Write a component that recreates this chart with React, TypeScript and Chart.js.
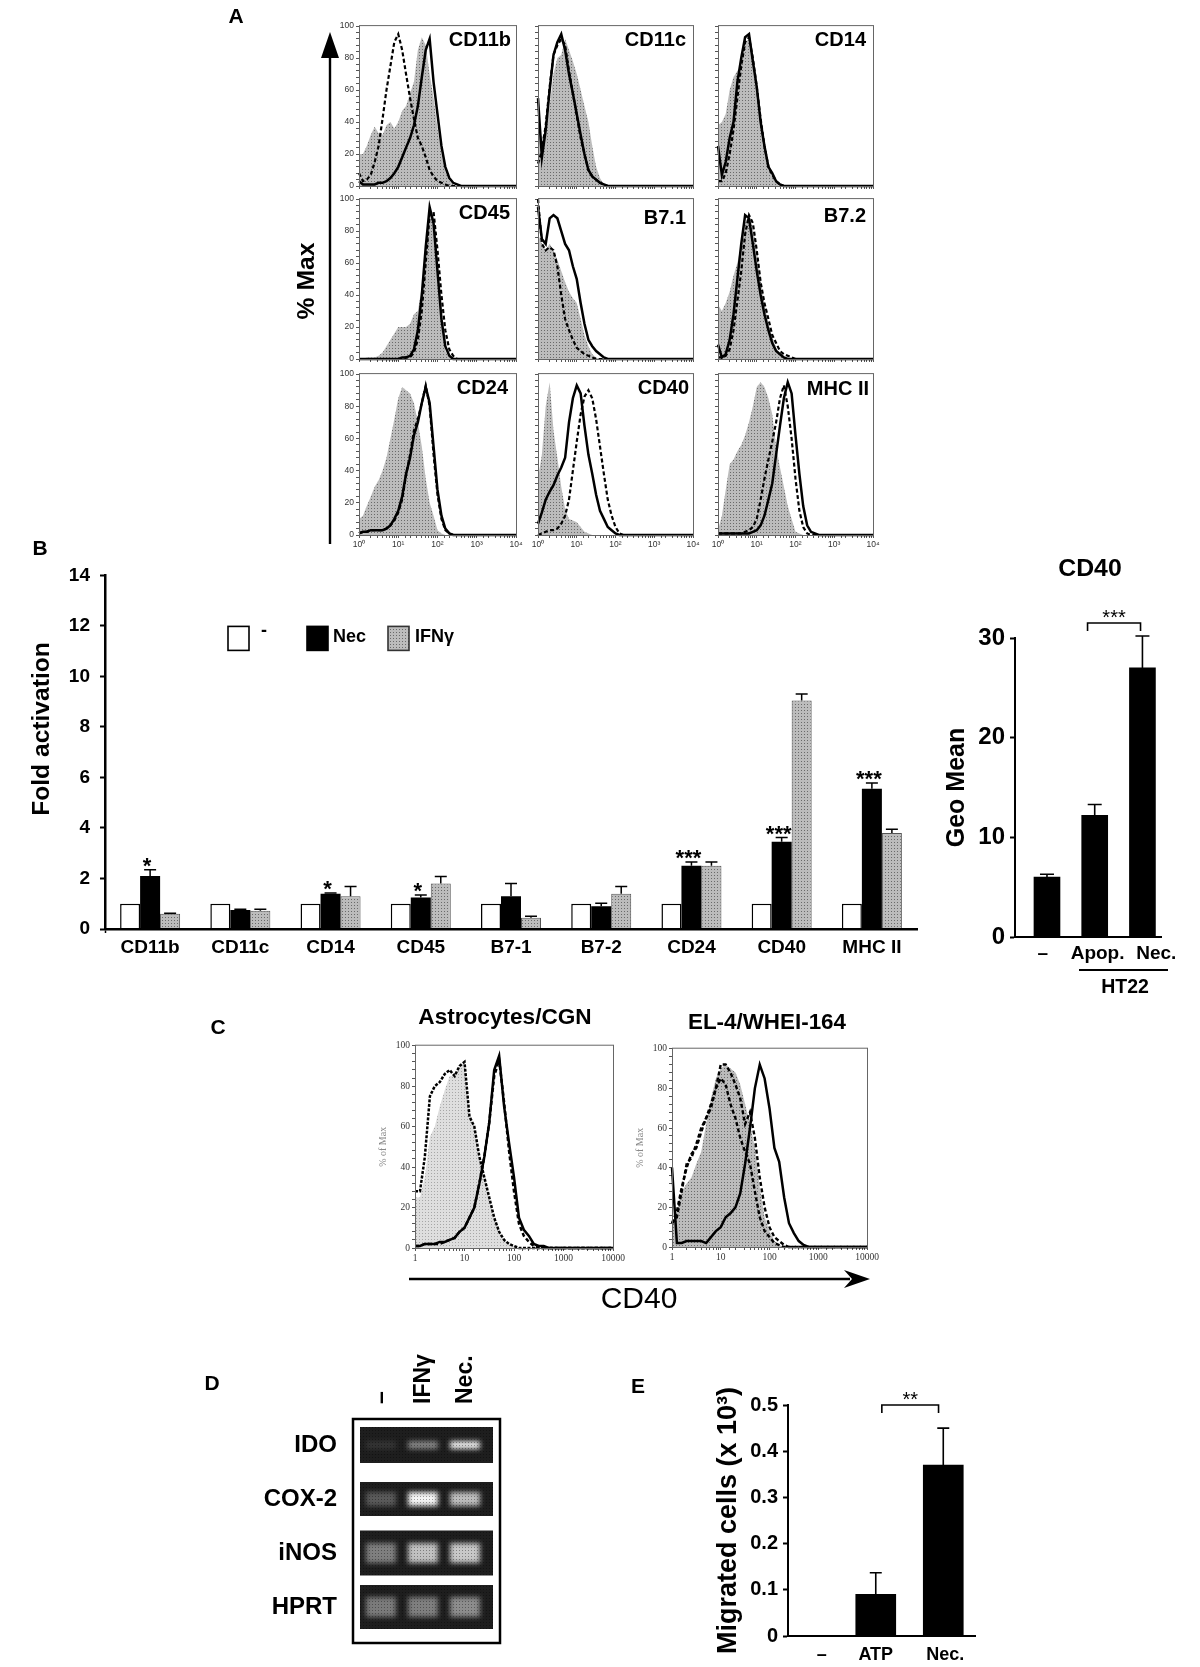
import React, { useEffect, useRef } from "react";
import { Chart, registerables } from "chart.js";
Chart.register(...registerables);

// ---------- Data ----------
const intensityGrid = [1, 1.26, 1.58, 2, 2.51, 3.16, 3.98, 5.01, 6.31, 7.94, 10, 12.6, 15.8, 20, 25.1, 31.6, 39.8, 50.1, 63.1, 79.4, 100, 126, 158, 200, 251, 316, 398, 501, 631, 794, 1000, 10000];

const cd11bGray = [20, 20, 25, 32, 37, 33, 32, 38, 40, 36, 40, 47, 50, 58, 65, 85, 93, 88, 70, 55, 36, 20, 9, 3, 1];
const cd11bSolid = [3, 1, 1, 1, 1, 2, 2, 3, 5, 8, 12, 18, 24, 30, 38, 50, 68, 85, 92, 65, 45, 25, 12, 5, 2, 1];
const cd11bDashed = [8, 3, 4, 7, 15, 25, 42, 60, 75, 90, 95, 85, 70, 55, 42, 30, 25, 18, 10, 6, 3, 2, 1];

const cd11cGray = [40, 30, 35, 50, 70, 80, 82, 92, 85, 78, 70, 60, 50, 40, 25, 12, 5, 1];
const cd11cSolid = [55, 18, 35, 60, 82, 90, 95, 85, 70, 58, 45, 32, 20, 10, 6, 4, 2, 1];
const cd11cDashed = [14, 22, 38, 62, 82, 88, 92, 88, 72, 58, 44, 30, 20, 10, 6, 4, 2, 1];

const cd14Gray = [38, 40, 45, 60, 68, 72, 75, 90, 92, 82, 65, 45, 28, 14, 8, 3, 1];
const cd14Solid = [25, 7, 15, 30, 40, 65, 80, 93, 95, 78, 62, 40, 25, 12, 8, 3, 1];
const cd14Dashed = [3, 3, 8, 20, 35, 55, 75, 90, 93, 80, 62, 42, 25, 12, 7, 3, 1];

const cd45Gray = [0, 0, 1, 1, 1, 2, 4, 8, 12, 16, 20, 20, 20, 22, 28, 30, 45, 70, 95, 85, 55, 25, 5, 1];
const cd45Solid = [0, 0, 0, 0, 0, 0, 0, 0, 0, 0, 0, 1, 1, 2, 6, 18, 40, 70, 95, 85, 55, 25, 8, 2];
const cd45Dashed = [0, 0, 0, 0, 0, 0, 0, 0, 0, 0, 0, 0, 1, 1, 4, 12, 30, 60, 90, 92, 68, 40, 18, 6, 2];

const b71Gray = [78, 72, 68, 72, 68, 62, 55, 48, 42, 38, 35, 25, 15, 8, 3, 1];
const b71Solid = [95, 75, 72, 88, 90, 88, 80, 72, 68, 58, 50, 35, 22, 12, 8, 5, 3, 1];
const b71Dashed = [100, 72, 68, 70, 68, 58, 40, 25, 18, 12, 7, 5, 3, 2, 1];

const b72Gray = [34, 30, 35, 42, 52, 60, 72, 85, 90, 82, 68, 50, 35, 22, 14, 7, 3, 1];
const b72Solid = [9, 1, 3, 12, 28, 50, 72, 90, 88, 72, 55, 40, 28, 18, 10, 5, 3, 1];
const b72Dashed = [1, 1, 2, 6, 18, 36, 55, 78, 90, 85, 68, 48, 35, 25, 15, 10, 5, 3, 2, 1];

const cd24Gray = [10, 12, 18, 24, 30, 34, 40, 48, 60, 72, 85, 92, 90, 88, 82, 70, 55, 35, 20, 12, 3, 1];
const cd24Solid = [1, 2, 2, 3, 3, 3, 3, 4, 6, 10, 15, 24, 38, 48, 62, 70, 82, 92, 82, 55, 28, 12, 4, 1];
const cd24Dashed = [1, 2, 2, 3, 3, 3, 3, 4, 6, 9, 14, 22, 37, 50, 65, 72, 82, 93, 80, 50, 25, 10, 3, 1];

const cd40Gray = [35, 50, 80, 95, 65, 48, 30, 16, 10, 9, 8, 5, 2, 1];
const cd40Solid = [7, 14, 22, 27, 31, 37, 42, 48, 70, 85, 93, 88, 68, 50, 38, 25, 15, 10, 5, 3, 1];
const cd40Dashed = [0, 1, 2, 3, 3, 4, 7, 12, 22, 40, 58, 75, 86, 90, 85, 72, 55, 38, 22, 12, 5, 1];

const mhcGray = [3, 12, 28, 44, 47, 52, 56, 62, 70, 80, 92, 95, 92, 85, 75, 55, 42, 30, 18, 10, 2, 1];
const mhcSolid = [1, 1, 1, 1, 1, 1, 1, 1, 1, 2, 3, 6, 12, 22, 32, 50, 68, 85, 95, 88, 62, 38, 18, 6, 2, 1];
const mhcDashed = [1, 1, 1, 1, 1, 1, 1, 2, 3, 5, 10, 22, 35, 47, 58, 70, 85, 93, 80, 60, 35, 15, 5, 1];

const astroGray = [25, 25, 35, 55, 60, 70, 78, 85, 85, 90, 92, 65, 60, 45, 35, 25, 15, 8, 4, 2, 1];
const astroOutline = [28, 28, 45, 75, 80, 82, 86, 88, 85, 90, 92, 65, 60, 45, 35, 25, 15, 8, 4, 2, 1];
const astroSolid = [1, 1, 2, 2, 2, 3, 3, 4, 5, 8, 10, 15, 20, 32, 45, 62, 88, 95, 70, 52, 35, 15, 9, 6, 2, 1, 1];
const astroDashed = [1, 1, 2, 2, 2, 2, 3, 4, 5, 8, 10, 15, 20, 32, 45, 62, 85, 93, 72, 48, 28, 12, 6, 3, 1];

const el4Gray = [10, 18, 28, 32, 35, 42, 48, 62, 75, 85, 90, 92, 90, 88, 82, 72, 62, 50, 30, 15, 8, 3, 1];
const el4Solid = [40, 2, 2, 3, 3, 3, 3, 2, 5, 8, 10, 15, 17, 20, 27, 42, 60, 80, 92, 85, 70, 50, 43, 25, 12, 7, 3, 1];
const el4DashedA = [12, 18, 30, 40, 47, 50, 58, 65, 70, 80, 92, 92, 88, 82, 75, 62, 68, 55, 35, 20, 10, 5, 3, 1];
const el4DashedB = [12, 15, 28, 42, 45, 52, 60, 65, 72, 80, 85, 82, 72, 65, 55, 48, 42, 28, 15, 8, 5, 2, 1];

const foldCategories = ["CD11b", "CD11c", "CD14", "CD45", "B7-1", "B7-2", "CD24", "CD40", "MHC II"];
const foldControl = [1, 1, 1, 1, 1, 1, 1, 1, 1];
const foldNec = [2.1, 0.75, 1.4, 1.25, 1.3, 0.9, 2.5, 3.45, 5.55];
const foldIfn = [0.6, 0.72, 1.3, 1.8, 0.45, 1.4, 2.5, 9.05, 3.8];
const foldNecTop = [2.35, 0.78, 1.43, 1.35, 1.8, 1.02, 2.65, 3.62, 5.78];
const foldIfnTop = [0.62, 0.78, 1.68, 2.08, 0.5, 1.68, 2.65, 9.3, 3.95];
const foldStars = ["*", "", "*", "*", "", "", "***", "***", "***"];

const geoLabels = ["–", "Apop.", "Nec."];
const geoValues = [6, 12.2, 27];
const geoTops = [6.3, 13.3, 30.2];

const migratedLabels = ["–", "ATP", "Nec."];
const migratedValues = [0, 0.09, 0.37];
const migratedTops = [0, 0.137, 0.45];

const gelLanes = ["–", "IFNγ", "Nec."];
const gelGenes = ["IDO", "COX-2", "iNOS", "HPRT"];
const idoBands = [0.08, 0.45, 0.9];
const coxBands = [0.25, 0.95, 0.7];
const inosBands = [0.42, 0.72, 0.75];
const hprtBands = [0.4, 0.42, 0.48];

// ---------- Helpers ----------
const SANS = "'Liberation Sans', Arial, sans-serif";
const bold = (size: number) => ({ family: SANS, weight: "bold" as const, size });

function dots(bg: string, dot: string) {
  const c = document.createElement("canvas");
  c.width = 3;
  c.height = 3;
  const g = c.getContext("2d")!;
  g.fillStyle = bg;
  g.fillRect(0, 0, 3, 3);
  g.fillStyle = dot;
  g.fillRect(0, 0, 1, 1);
  return g.createPattern(c, "repeat")!;
}

function whiskerPlugin(tops: (number[] | null)[], cap: number, lw: number) {
  return {
    id: "whiskers",
    afterDatasetsDraw(chart: any) {
      const { ctx } = chart;
      const y = chart.scales.y;
      ctx.save();
      ctx.strokeStyle = "#000";
      ctx.lineWidth = lw;
      tops.forEach((arr, d) => {
        if (!arr) return;
        chart.getDatasetMeta(d).data.forEach((el: any, i: number) => {
          if (!arr[i]) return;
          const t = y.getPixelForValue(arr[i]);
          const b = el.y;
          ctx.beginPath();
          ctx.moveTo(el.x, b);
          ctx.lineTo(el.x, t);
          ctx.moveTo(el.x - cap, t);
          ctx.lineTo(el.x + cap, t);
          ctx.stroke();
        });
      });
      ctx.restore();
    },
  };
}

function bracketPlugin(from: number, to: number, at: number, legPx: number, stars: string, font: string) {
  return {
    id: "bracket",
    afterDraw(chart: any) {
      const { ctx, scales } = chart;
      const a = scales.x.getPixelForValue(from);
      const b = scales.x.getPixelForValue(to);
      const t = scales.y.getPixelForValue(at);
      ctx.save();
      ctx.strokeStyle = "#000";
      ctx.lineWidth = 1.6;
      ctx.beginPath();
      ctx.moveTo(a, t + legPx);
      ctx.lineTo(a, t);
      ctx.lineTo(b, t);
      ctx.lineTo(b, t + legPx);
      ctx.stroke();
      ctx.fillStyle = "#000";
      ctx.font = font;
      ctx.textAlign = "center";
      ctx.textBaseline = "alphabetic";
      ctx.fillText(stars, (a + b) / 2, t + 1);
      ctx.restore();
    },
  };
}

type Box = [number, number, number, number];
type Margin = [number, number, number, number];

function Plot({ box, margin, make }: { box: Box; margin: Margin; make: () => any }) {
  const ref = useRef<HTMLCanvasElement>(null);
  const [x0, y0, x1, y1] = box;
  const [l, t, r, b] = margin;
  const w = x1 - x0 + l + r;
  const h = y1 - y0 + t + b;
  useEffect(() => {
    const cfg = make();
    const o = cfg.options;
    o.responsive = false;
    o.maintainAspectRatio = false;
    o.animation = false;
    const top = o.scales.x.position === "top";
    o.layout = { padding: { left: 0, right: r, top: top ? 0 : t, bottom: top ? b : 0 } };
    o.scales.x.afterFit = (s: any) => {
      s.height = top ? t : b;
    };
    o.scales.y.afterFit = (s: any) => {
      s.width = l;
    };
    const chart = new Chart(ref.current!, cfg);
    return () => chart.destroy();
  }, []);
  return (
    <canvas
      ref={ref}
      width={w}
      height={h}
      style={{ position: "absolute", left: x0 - l, top: y0 - t, width: w, height: h, display: "block" }}
    />
  );
}

const DECADES: Record<number, string> = { 1: "10⁰", 10: "10¹", 100: "10²", 1000: "10³", 10000: "10⁴" };

const toPoints = (arr: number[]) => intensityGrid.map((x, i) => ({ x, y: arr[i] ?? 0 }));

function histogram(opts: {
  gray: number[];
  lines: { values: number[]; dash?: number[]; width?: number }[];
  name?: string;
  nameRight?: number;
  nameTop?: number;
  showY?: boolean;
  showX?: boolean;
  plain?: boolean;
  light?: boolean;
  sideTitle?: boolean;
}) {
  const tickFont = opts.plain
    ? { family: "'Liberation Serif', serif", size: 9.5 }
    : { family: SANS, size: 8.5 };
  const fill = opts.light ? dots("#dedede", "#a6a6a6") : dots("#bcbcbc", "#6a6a6a");
  return {
    type: "line",
    data: {
      datasets: [
        ...opts.lines.map((ln, i) => ({
          label: "line" + i,
          data: toPoints(ln.values),
          borderColor: "#000",
          borderWidth: ln.width ?? 2.5,
          borderDash: ln.dash ?? [],
          pointRadius: 0,
          tension: 0,
          fill: false,
          order: i + 1,
          clip: false,
        })),
        {
          label: "unstained",
          data: toPoints(opts.gray),
          borderWidth: 0,
          backgroundColor: fill,
          pointRadius: 0,
          tension: 0,
          fill: "origin",
          order: 20,
        },
      ],
    },
    options: {
      plugins: { legend: { display: false }, tooltip: { enabled: false } },
      scales: {
        x: {
          type: "logarithmic",
          min: 1,
          max: 10000,
          border: { color: "#555" },
          grid: { drawOnChartArea: false, tickLength: 3, color: "#555" },
          ticks: {
            autoSkip: false,
            maxRotation: 0,
            minRotation: 0,
            padding: 2,
            color: "#333",
            font: tickFont,
            callback: (v: number) => {
              if (!opts.showX) return "";
              if (opts.plain) return [1, 10, 100, 1000, 10000].includes(v) ? String(v) : "";
              return DECADES[v] ?? "";
            },
          },
        },
        y: {
          min: 0,
          max: 100,
          border: { color: "#555" },
          grid: { drawOnChartArea: false, tickLength: 3, color: "#555" },
          title: opts.sideTitle
            ? { display: true, text: "% of Max", color: "#888", padding: 0, font: { family: "'Liberation Serif', serif", size: 10 } }
            : { display: false },
          ticks: {
            stepSize: 4,
            autoSkip: false,
            padding: 2,
            color: "#333",
            font: tickFont,
            callback: (v: number) => (opts.showY && v % 20 === 0 ? String(v) : ""),
          },
        },
      },
    },
    plugins: [
      {
        id: "frameAndName",
        afterDraw(chart: any) {
          const { ctx, chartArea: a } = chart;
          ctx.save();
          ctx.strokeStyle = "#666";
          ctx.lineWidth = 1;
          ctx.strokeRect(a.left + 0.5, a.top - 0.5, a.right - a.left, a.bottom - a.top + 1);
          if (opts.name) {
            ctx.fillStyle = "#000";
            ctx.font = `bold 20px ${SANS}`;
            ctx.textAlign = "right";
            ctx.textBaseline = "middle";
            ctx.fillText(opts.name, a.right - (opts.nameRight ?? 6), a.top + (opts.nameTop ?? 14));
          }
          ctx.restore();
        },
      },
    ],
  };
}

const D = [4, 2.5];
const HIST_MARGIN: Margin = [30, 6, 14, 22];

const columnsA: [number, number][] = [[359, 516], [538, 693], [718, 873]];
const rowsA: [number, number][] = [[25, 186], [198, 359], [373, 535]];

const panelsA = [
  { c: 0, r: 0, name: "CD11b", gray: cd11bGray, s: cd11bSolid, d: cd11bDashed, nr: 5, nt: 14 },
  { c: 1, r: 0, name: "CD11c", gray: cd11cGray, s: cd11cSolid, d: cd11cDashed, nr: 7, nt: 14 },
  { c: 2, r: 0, name: "CD14", gray: cd14Gray, s: cd14Solid, d: cd14Dashed, nr: 7, nt: 14 },
  { c: 0, r: 1, name: "CD45", gray: cd45Gray, s: cd45Solid, d: cd45Dashed, nr: 6, nt: 14 },
  { c: 1, r: 1, name: "B7.1", gray: b71Gray, s: b71Solid, d: b71Dashed, nr: 7, nt: 19 },
  { c: 2, r: 1, name: "B7.2", gray: b72Gray, s: b72Solid, d: b72Dashed, nr: 7, nt: 17 },
  { c: 0, r: 2, name: "CD24", gray: cd24Gray, s: cd24Solid, d: cd24Dashed, nr: 8, nt: 14 },
  { c: 1, r: 2, name: "CD40", gray: cd40Gray, s: cd40Solid, d: cd40Dashed, nr: 4, nt: 14 },
  { c: 2, r: 2, name: "MHC II", gray: mhcGray, s: mhcSolid, d: mhcDashed, nr: 4, nt: 15 },
];

function foldConfig() {
  return {
    type: "bar",
    data: {
      labels: foldCategories,
      datasets: [
        { label: "-", data: foldControl, backgroundColor: "#fff", borderColor: "#000", borderWidth: 1.5 },
        { label: "Nec", data: foldNec, backgroundColor: "#000", borderColor: "#000", borderWidth: 0 },
        { label: "IFNγ", data: foldIfn, backgroundColor: dots("#bcbcbc", "#6a6a6a"), borderColor: "#555", borderWidth: 1 },
      ],
    },
    options: {
      datasets: { bar: { categoryPercentage: 0.665, barPercentage: 1 } },
      plugins: { legend: { display: false }, tooltip: { enabled: false } },
      scales: {
        x: {
          border: { color: "#000", width: 2.5, z: 1 },
          grid: {
            drawOnChartArea: false,
            tickLength: 4,
            tickWidth: 1.5,
            tickColor: (c: any) => (c.index === 0 || c.index === foldCategories.length ? "#000" : "transparent"),
          },
          ticks: { color: "#000", font: bold(19), padding: 3, autoSkip: false, maxRotation: 0 },
        },
        y: {
          min: 0,
          max: 14,
          border: { color: "#000", width: 2.5, z: 1 },
          grid: { drawOnChartArea: false, tickLength: 5, tickWidth: 2, tickColor: "#000" },
          ticks: { stepSize: 2, color: "#000", font: bold(19), padding: 10 },
        },
      },
    },
    plugins: [
      whiskerPlugin([null, foldNecTop, foldIfnTop], 6, 1.5),
      {
        id: "foldExtras",
        afterDraw(chart: any) {
          const { ctx, chartArea: a, scales } = chart;
          ctx.save();
          // significance stars
          ctx.fillStyle = "#000";
          ctx.font = `bold 22px ${SANS}`;
          ctx.textAlign = "center";
          ctx.textBaseline = "alphabetic";
          chart.getDatasetMeta(1).data.forEach((el: any, i: number) => {
            if (foldStars[i]) ctx.fillText(foldStars[i], el.x - 3, scales.y.getPixelForValue(foldNecTop[i]) + 3);
          });
          // legend
          const ly = a.top + 51;
          const sets = chart.data.datasets;
          const lx = [a.left + 123, a.left + 202, a.left + 283];
          const tx = [a.left + 156, a.left + 228, a.left + 310];
          sets.forEach((ds: any, i: number) => {
            ctx.fillStyle = ds.backgroundColor;
            ctx.fillRect(lx[i], ly, 21, 24);
            ctx.strokeStyle = i === 2 ? "#333" : "#000";
            ctx.lineWidth = 1.6;
            ctx.strokeRect(lx[i], ly, 21, 24);
            ctx.fillStyle = "#000";
            ctx.font = `bold 18px ${SANS}`;
            ctx.textAlign = "left";
            ctx.textBaseline = "middle";
            ctx.fillText(ds.label, tx[i], ly + (i === 0 ? 5 : 11));
          });
          ctx.restore();
        },
      },
    ],
  };
}

function geoConfig() {
  const bars = [0.67, 1.67, 2.67];
  const tickSpots = [0.58, 1.73, 2.96];
  return {
    type: "bar",
    data: {
      datasets: [
        {
          label: "Geo Mean",
          data: bars.map((x, i) => ({ x, y: geoValues[i] })),
          backgroundColor: "#000",
          barThickness: 26,
        },
      ],
    },
    options: {
      plugins: { legend: { display: false }, tooltip: { enabled: false } },
      scales: {
        x: {
          type: "linear",
          offset: false,
          min: 0,
          max: 3.06,
          border: { color: "#000", width: 2, z: 1 },
          grid: { display: false, drawTicks: false },
          afterBuildTicks: (s: any) => {
            s.ticks = tickSpots.map((value) => ({ value }));
          },
          ticks: {
            color: "#000",
            font: bold(19),
            padding: 5,
            autoSkip: false,
            maxRotation: 0,
            callback: (_v: number, i: number) => geoLabels[i],
          },
        },
        y: {
          min: 0,
          max: 30,
          border: { color: "#000", width: 2, z: 1 },
          grid: { drawOnChartArea: false, tickLength: 5, tickWidth: 2, tickColor: "#000" },
          title: { display: true, text: "Geo Mean", color: "#000", font: bold(25), padding: 0 },
          ticks: { stepSize: 10, color: "#000", font: bold(24), padding: 5 },
        },
      },
    },
    plugins: [
      whiskerPlugin([geoTops], 7, 1.6),
      bracketPlugin(1.52, 2.63, 31.5, 8, "***", `20px ${SANS}`),
    ],
  };
}

function migratedConfig() {
  const bars = [0.5, 1.3, 2.3];
  const tickSpots = [0.5, 1.3, 2.33];
  return {
    type: "bar",
    data: {
      datasets: [
        {
          label: "Migrated cells",
          data: bars.map((x, i) => ({ x, y: migratedValues[i] })),
          backgroundColor: "#000",
          barThickness: 40,
        },
      ],
    },
    options: {
      plugins: { legend: { display: false }, tooltip: { enabled: false } },
      scales: {
        x: {
          type: "linear",
          offset: false,
          min: 0,
          max: 2.77,
          border: { color: "#000", width: 2, z: 1 },
          grid: { display: false, drawTicks: false },
          afterBuildTicks: (s: any) => {
            s.ticks = tickSpots.map((value) => ({ value }));
          },
          ticks: {
            color: "#000",
            font: bold(18),
            padding: 8,
            autoSkip: false,
            maxRotation: 0,
            callback: (_v: number, i: number) => migratedLabels[i],
          },
        },
        y: {
          min: 0,
          max: 0.5,
          border: { color: "#000", width: 2, z: 1 },
          grid: { drawOnChartArea: false, tickLength: 5, tickWidth: 2, tickColor: "#000" },
          title: { display: true, text: "Migrated cells (x 10³)", color: "#000", font: bold(27), padding: 0 },
          ticks: {
            stepSize: 0.1,
            color: "#000",
            font: bold(20),
            padding: 5,
            callback: (v: number) => (v === 0 ? "0" : Number(v).toFixed(1)),
          },
        },
      },
    },
    plugins: [
      whiskerPlugin([migratedTops], 6, 1.6),
      bracketPlugin(1.39, 2.23, 0.5, 8, "**", `20px ${SANS}`),
    ],
  };
}

function gelConfig() {
  const rows = [idoBands, coxBands, inosBands, hprtBands];
  const gelHeight = [36, 34, 45, 44];
  const bandHeight = [8, 14, 20, 20];
  const points: { x: string; y: string; v: number }[] = [];
  gelGenes.forEach((g, r) => gelLanes.forEach((l, c) => points.push({ x: l, y: g, v: rows[r][c] })));
  const grain = dots("rgba(0,0,0,0)", "rgba(0,0,0,0.35)");
  return {
    type: "scatter",
    data: { datasets: [{ label: "bands", data: points, pointRadius: 0, showLine: false }] },
    options: {
      plugins: { legend: { display: false }, tooltip: { enabled: false } },
      scales: {
        x: {
          type: "category",
          position: "top",
          offset: true,
          labels: gelLanes,
          border: { display: false },
          grid: { display: false, drawTicks: false },
          ticks: { color: "#000", font: bold(23), maxRotation: 90, minRotation: 90, padding: 14, autoSkip: false, labelOffset: 28 },
        },
        y: {
          type: "category",
          offset: true,
          labels: gelGenes,
          border: { display: false },
          grid: { display: false, drawTicks: false },
          ticks: { color: "#000", font: bold(24), padding: 23, autoSkip: false },
        },
      },
    },
    plugins: [
      {
        id: "gelImage",
        afterDatasetsDraw(chart: any) {
          const { ctx, chartArea: a, scales } = chart;
          ctx.save();
          gelGenes.forEach((g, r) => {
            const cy = scales.y.getPixelForValue(r);
            const h = gelHeight[r];
            ctx.fillStyle = "#1e1e1e";
            ctx.fillRect(a.left, cy - h / 2, a.right - a.left + 7, h);
          });
          chart.getDatasetMeta(0).data.forEach((el: any, i: number) => {
            const r = Math.floor(i / 3);
            const v = points[i].v;
            const g = Math.round(35 + v * 220);
            const bh = bandHeight[r];
            ctx.filter = "blur(2.5px)";
            ctx.fillStyle = `rgb(${g},${g},${g})`;
            ctx.fillRect(el.x - 15, el.y - bh / 2, 30, bh);
            ctx.filter = "none";
          });
          gelGenes.forEach((g, r) => {
            const cy = scales.y.getPixelForValue(r);
            const h = gelHeight[r];
            ctx.fillStyle = grain;
            ctx.fillRect(a.left, cy - h / 2, a.right - a.left + 7, h);
          });
          ctx.strokeStyle = "#000";
          ctx.lineWidth = 2.5;
          ctx.strokeRect(a.left - 7, a.top + 1, a.right - a.left + 21, 224);
          ctx.restore();
        },
      },
    ],
  };
}

function Txt({ x, y, size, rot, weight, color, family, children }: any) {
  return (
    <div
      style={{
        position: "absolute",
        left: x,
        top: y,
        transform: `translate(-50%,-50%)${rot ? ` rotate(${rot}deg)` : ""}`,
        font: `${weight ?? "bold"} ${size}px ${family ?? SANS}`,
        color: color ?? "#000",
        whiteSpace: "nowrap",
        lineHeight: 1,
      }}
    >
      {children}
    </div>
  );
}

export default function App() {
  return (
    <div style={{ position: "absolute", left: 0, top: 0, width: 1200, height: 1667, background: "#fff", overflow: "hidden" }}>
      {panelsA.map((p) => (
        <Plot
          key={p.name}
          box={[columnsA[p.c][0], rowsA[p.r][0], columnsA[p.c][1], rowsA[p.r][1]]}
          margin={HIST_MARGIN}
          make={() =>
            histogram({
              gray: p.gray,
              lines: [{ values: p.s }, { values: p.d, dash: D, width: 2.2 }],
              name: p.name,
              nameRight: p.nr,
              nameTop: p.nt,
              showY: p.c === 0,
              showX: p.r === 2,
            })
          }
        />
      ))}

      <Plot box={[105, 574, 917, 929]} margin={[105, 20, 10, 40]} make={foldConfig} />
      <Plot box={[1015, 638, 1162, 937]} margin={[73, 30, 20, 30]} make={geoConfig} />

      <Plot
        box={[415, 1044, 613, 1248]}
        margin={[38, 6, 18, 22]}
        make={() =>
          histogram({
            gray: astroGray,
            lines: [
              { values: astroSolid },
              { values: astroDashed, dash: D },
              { values: astroOutline, dash: [3, 1.5] },
            ],
            showY: true,
            showX: true,
            plain: true,
            light: true,
            sideTitle: true,
          })
        }
      />
      <Plot
        box={[672, 1047, 867, 1247]}
        margin={[38, 6, 18, 22]}
        make={() =>
          histogram({
            gray: el4Gray,
            lines: [
              { values: el4Solid },
              { values: el4DashedA, dash: D, width: 2.4 },
              { values: el4DashedB, dash: D, width: 2.4 },
            ],
            showY: true,
            showX: true,
            plain: true,
            sideTitle: true,
          })
        }
      />

      <Plot box={[360, 1418, 486, 1634]} margin={[120, 72, 30, 45]} make={gelConfig} />
      <Plot box={[788, 1405, 975, 1636]} margin={[76, 30, 15, 30]} make={migratedConfig} />

      {/* Arrows and rule under HT22 */}
      <svg width={1200} height={1667} style={{ position: "absolute", left: 0, top: 0, pointerEvents: "none" }}>
        <line x1={330} y1={50} x2={330} y2={544} stroke="#000" strokeWidth={2.4} />
        <polygon points="330,32 321,58 339,58" fill="#000" />
        <line x1={409} y1={1279} x2={850} y2={1279} stroke="#000" strokeWidth={2.4} />
        <polygon points="870,1279 844,1270 852,1279 844,1288" fill="#000" />
        <line x1={1079} y1={970} x2={1168} y2={970} stroke="#000" strokeWidth={1.8} />
      </svg>

      <Txt x={236} y={15} size={21}>A</Txt>
      <Txt x={40} y={547} size={21}>B</Txt>
      <Txt x={218} y={1026} size={21}>C</Txt>
      <Txt x={212} y={1382} size={21}>D</Txt>
      <Txt x={638} y={1385} size={21}>E</Txt>

      <Txt x={306} y={281} size={24.7} rot={-90}>% Max</Txt>
      <Txt x={41} y={729} size={24.6} rot={-90}>Fold activation</Txt>

      <Txt x={1090} y={568} size={24.8}>CD40</Txt>
      <Txt x={1125} y={987} size={19.5}>HT22</Txt>

      <Txt x={505} y={1017} size={22.6}>Astrocytes/CGN</Txt>
      <Txt x={767} y={1022} size={22.4}>EL-4/WHEI-164</Txt>
      <Txt x={639} y={1298} size={30} weight="normal">CD40</Txt>
    </div>
  );
}
